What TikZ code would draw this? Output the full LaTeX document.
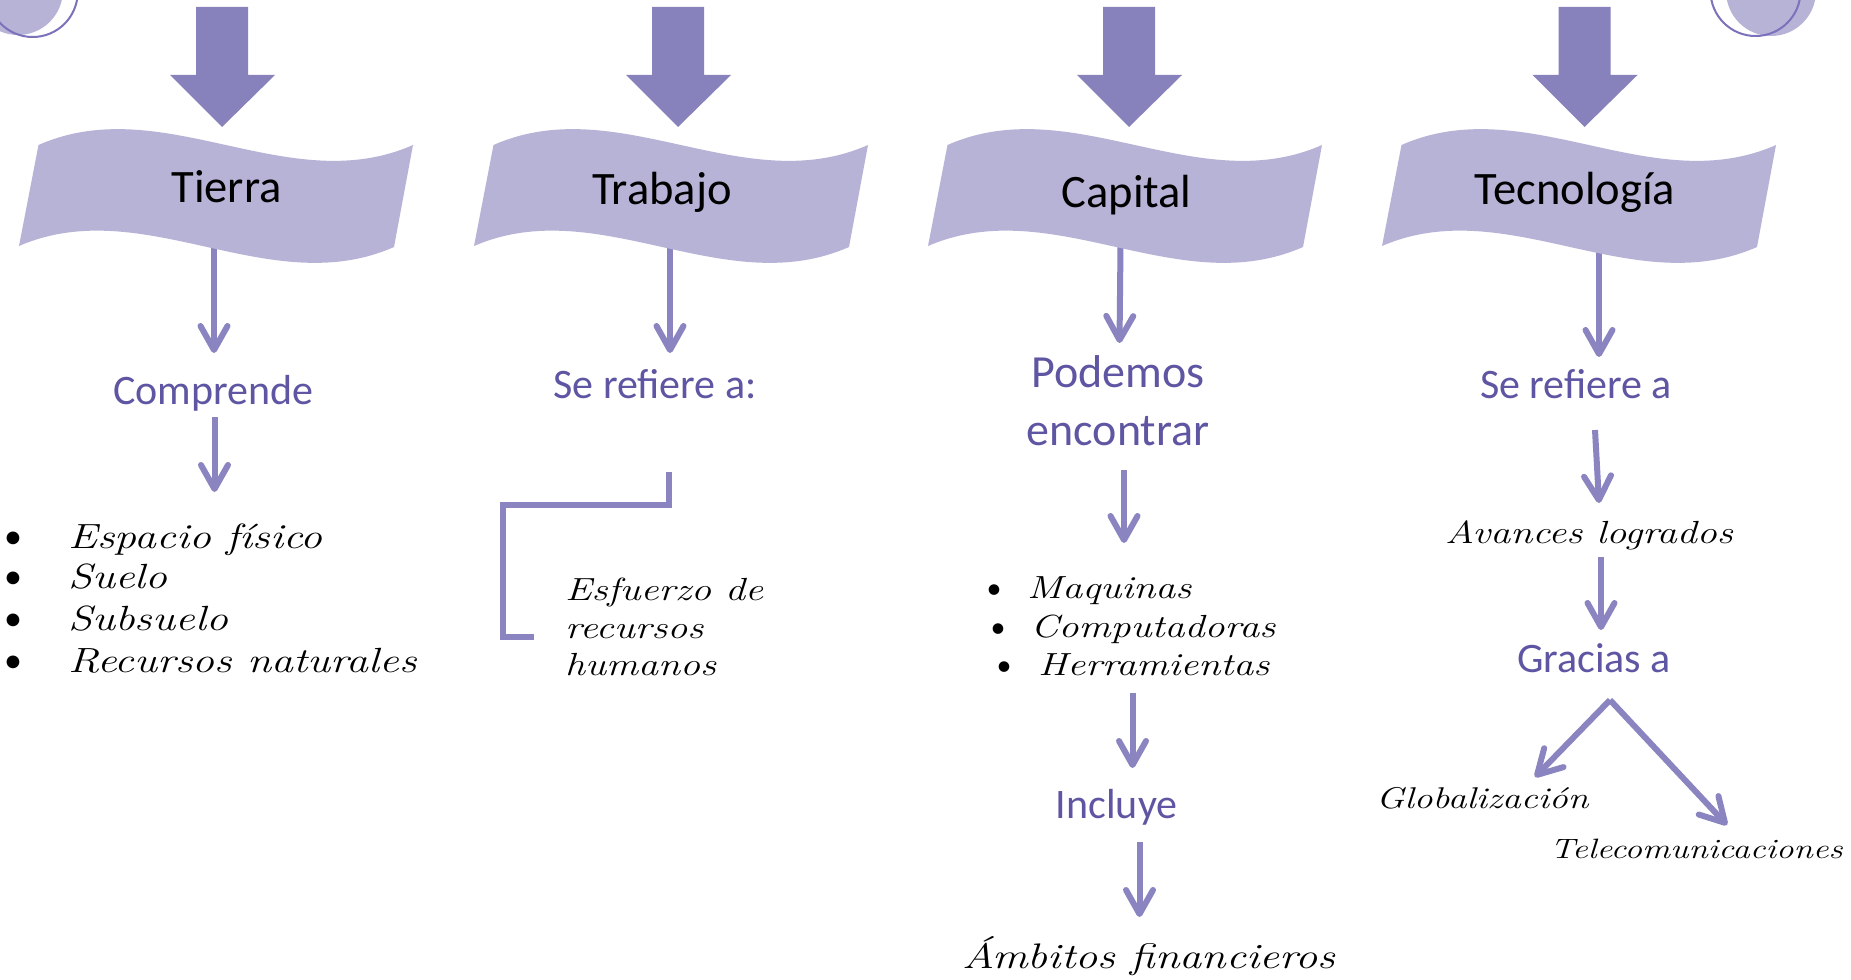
\documentclass[tikz,border=0pt]{standalone}
\usepackage{fontspec}
\newfontfamily\calfont{Carlito}
\usepackage{graphicx}
\usetikzlibrary{arrows.meta}
\definecolor{bigarrow}{HTML}{8882BC}
\definecolor{bannerfill}{HTML}{B7B3D7}
\definecolor{thinarrow}{HTML}{8A84C0}
\definecolor{purpletext}{HTML}{5E56A2}
\definecolor{circleline}{HTML}{7A72BA}
\newcommand\hw[2]{\scalebox{1.25}[1]{\fontsize{#1}{#1}\selectfont\itshape\addfontfeatures{FakeBold=1.2}#2}}
\tikzset{
  bigarrowstyle/.style={fill=bigarrow, draw=none},
  bannerstyle/.style={fill=bannerfill, draw=none},
  thinarrowstyle/.style={draw=thinarrow, line width=6pt, -{Straight Barb[length=24pt,width=27pt,round]}},
  bracketstyle/.style={draw=thinarrow, line width=5.5pt},
  headtext/.style={font=\calfont\fontsize{46.5}{50}\selectfont, text=black, anchor=base, inner sep=0pt},
  midtext/.style={font=\calfont\fontsize{42}{50}\selectfont, text=purpletext, anchor=base, inner sep=0pt},
  bigmidtext/.style={font=\calfont\fontsize{46}{50}\selectfont, text=purpletext, anchor=base, inner sep=0pt},
  handtext/.style={anchor=base west, inner sep=0pt, text=black},
  bulletbig/.style={font=\calfont\fontsize{36}{40}\selectfont, anchor=base, inner sep=0pt, text=black},
  bulletsmall/.style={font=\calfont\fontsize{30}{34}\selectfont, anchor=base, inner sep=0pt, text=black},
  deco/.style={fill=bannerfill},
  decoline/.style={draw=circleline, line width=2pt},
}
\newcommand\bigdownarrow[1]{%
  \begin{scope}[shift={(#1,0)}]
    \path[bigarrowstyle] (196,7) -- (248,7) -- (248,75) -- (275,75) -- (222,127) -- (170,75) -- (196,75) -- cycle;
  \end{scope}}
\newcommand\banner[1]{%
  \begin{scope}[shift={(#1,0)}]
    \path[bannerstyle] (38.5,145) .. controls (163.3,90) and (288.2,200) .. (413,145)
      -- (394,247) .. controls (269,302) and (144,192) .. (19,246) -- cycle;
  \end{scope}}
\begin{document}
\begin{tikzpicture}[x=1pt,y=-1pt]
\clip (0,0) rectangle (1851,979);
\fill[white] (0,0) rectangle (1851,979);

% decorative corner circles
\path[deco] (18,-10) circle[radius=45];
\path[decoline] (32.7,-8) circle[radius=45];
\path[deco] (1771,-9) circle[radius=45];
\path[decoline] (1755.5,-9) circle[radius=45];

% thick arrows
\bigdownarrow{0}
\bigdownarrow{456}
\bigdownarrow{907}
\bigdownarrow{1362.5}

% coordinates for connectors
\coordinate (b1) at (214,246);
\coordinate (c1) at (214,353);
\coordinate (c1b) at (214.5,417);
\coordinate (l1) at (214.5,492);
\coordinate (b2) at (670,246);
\coordinate (c2) at (670,353);
\coordinate (k1) at (669,472);
\coordinate (k2) at (669,505);
\coordinate (k3) at (503,505);
\coordinate (k4) at (503,637);
\coordinate (k5) at (534,637);
\coordinate (b3) at (1120.5,246);
\coordinate (c3) at (1119.5,343);
\coordinate (c3b) at (1124,470);
\coordinate (l3) at (1124,543);
\coordinate (l3b) at (1132.5,693);
\coordinate (i3) at (1132.5,768);
\coordinate (i3b) at (1139.5,842);
\coordinate (f3) at (1139.5,917);
\coordinate (b4) at (1599,251);
\coordinate (c4) at (1599,357);
\coordinate (c4b) at (1595,430);
\coordinate (a4) at (1599,503);
\coordinate (a4b) at (1601,557);
\coordinate (g4) at (1601,630);
\coordinate (g4b) at (1610,700);
\coordinate (gl4) at (1535,777);
\coordinate (tl4) at (1727,825);

% thin connectors
\draw[thinarrowstyle] (b1) -- (c1);
\draw[thinarrowstyle] (c1b) -- (l1);
\draw[thinarrowstyle] (b2) -- (c2);
\draw[bracketstyle] (k1) -- (k2) -- (k3) -- (k4) -- (k5);
\draw[thinarrowstyle] (b3) -- (c3);
\draw[thinarrowstyle] (c3b) -- (l3);
\draw[thinarrowstyle] (l3b) -- (i3);
\draw[thinarrowstyle] (i3b) -- (f3);
\draw[thinarrowstyle] (b4) -- (c4);
\draw[thinarrowstyle] (c4b) -- (a4);
\draw[thinarrowstyle] (a4b) -- (g4);
\draw[thinarrowstyle] (g4b) -- (gl4);
\draw[thinarrowstyle] (g4b) -- (tl4);

% banners
\banner{0}
\banner{455}
\banner{909}
\banner{1363}

% banner titles
\node[headtext] (tierra) at (226.5,202) {Tierra};
\node[headtext] (trabajo) at (662,204) {Trabajo};
\node[headtext] (capital) at (1126.6,207) {Capital};
\node[headtext] (tecnologia) at (1575,204) {Tecnología};

% purple texts
\node[midtext] (comprende) at (213.5,404) {Comprende};
\node[midtext] (serefiereA) at (655,398) {Se refiere a:};
\node[bigmidtext] (podemos) at (1118,387) {Podemos};
\node[bigmidtext] (encontrar) at (1118,445) {encontrar};
\node[midtext] (incluye) at (1116.7,818) {Incluye};
\node[midtext] (serefiereB) at (1576,398) {Se refiere a};
\node[midtext] (gracias) at (1594,672) {Gracias a};

% column 1 list
\node[bulletbig] (bu1) at (13,548) {•};
\node[bulletbig] (bu2) at (13,588) {•};
\node[bulletbig] (bu3) at (13,630) {•};
\node[bulletbig] (bu4) at (13,672) {•};
\node[handtext] (espacio) at (68,548) {\hw{35}{Espacio físico}};
\node[handtext] (suelo) at (68,588) {\hw{35}{Suelo}};
\node[handtext] (subsuelo) at (68,630) {\hw{35}{Subsuelo}};
\node[handtext] (recursos) at (68,672) {\hw{35}{Recursos naturales}};

% column 2 text
\node[handtext] (esfuerzo) at (565,600) {\hw{32}{Esfuerzo de}};
\node[handtext] (recursosh) at (565,638) {\hw{32}{recursos}};
\node[handtext] (humanos) at (565,675) {\hw{32}{humanos}};

% column 3 list
\node[bulletsmall] (bm1) at (994,598) {•};
\node[bulletsmall] (bm2) at (998,637) {•};
\node[bulletsmall] (bm3) at (1004,675) {•};
\node[handtext] (maquinas) at (1027,598) {\hw{32}{Maquinas}};
\node[handtext] (computadoras) at (1030.5,637) {\hw{32}{Computadoras}};
\node[handtext] (herramientas) at (1038,675) {\hw{32}{Herramientas}};
\node[handtext] (ambitos) at (962,968) {\hw{35.5}{Ámbitos financieros}};

% column 4 texts
\node[handtext] (avances) at (1445,543) {\hw{32}{Avances logrados}};
\node[handtext] (globalizacion) at (1376,808) {\hw{30}{Globalización}};
\node[handtext] (telecom) at (1550,858) {\hw{28}{Telecomunicaciones}};
\end{tikzpicture}
\end{document}
